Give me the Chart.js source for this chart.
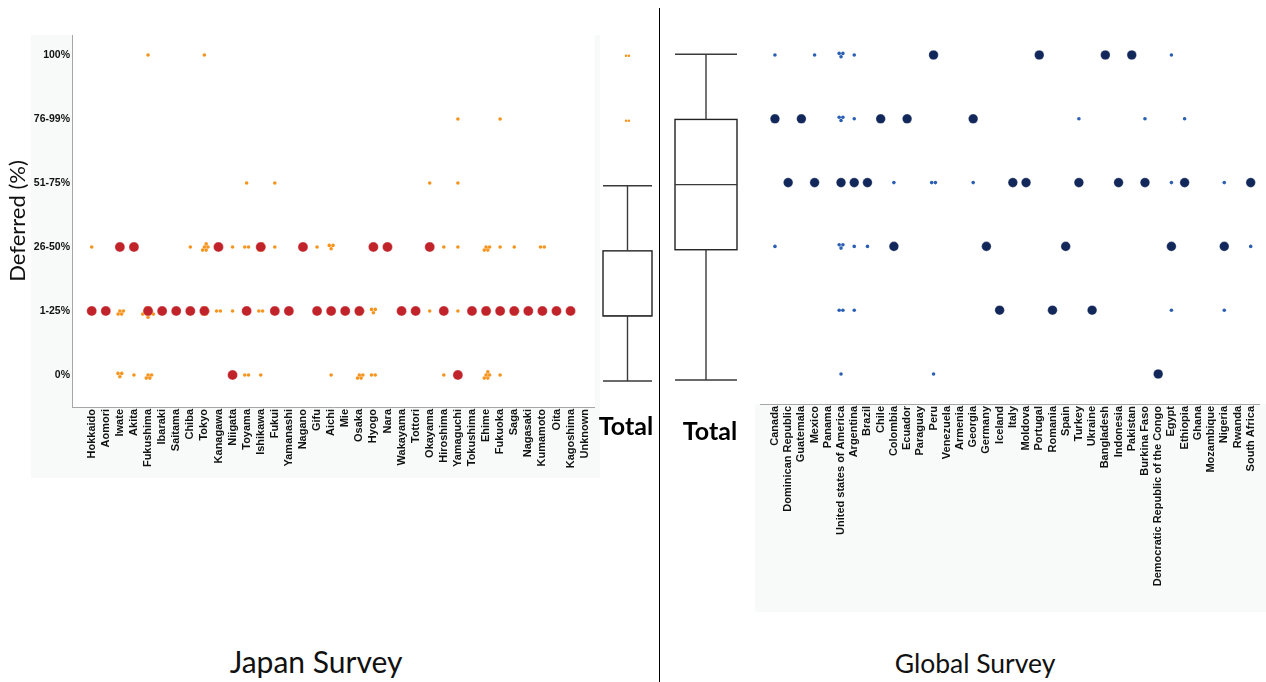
<!DOCTYPE html>
<html><head><meta charset="utf-8">
<script src="https://cdn.jsdelivr.net/npm/chart.js@4.4.0/dist/chart.umd.min.js"></script>
<style>
html,body{margin:0;padding:0;background:#fff;width:1266px;height:682px;overflow:hidden;position:relative;}
canvas{position:absolute;}
.title{position:absolute;font-family:Lato,'Open Sans',sans-serif;color:#111;white-space:nowrap;transform:translateX(-50%);line-height:36px;}
#divider{position:absolute;left:659px;top:8px;width:0;height:674px;border-left:1.6px solid #000;}
</style></head><body>
<canvas id="jp" width="600" height="490" style="left:0;top:0"></canvas>
<canvas id="jpBox" width="59" height="450" style="left:598px;top:0"></canvas>
<canvas id="glBox" width="66" height="460" style="left:673px;top:0"></canvas>
<canvas id="gl" width="511" height="612" style="left:755px;top:0"></canvas>
<div id="divider"></div>
<div class="title" style="left:316px;top:643px;font-size:30px">Japan Survey</div>
<div class="title" style="left:975px;top:645px;font-size:26.5px">Global Survey</div>
<script>
// ---------- DATA ----------
const levelLabels = ['0%','1-25%','26-50%','51-75%','76-99%','100%'];

const japanCategories = ['Hokkaido','Aomori','Iwate','Akita','Fukushima','Ibaraki','Saitama','Chiba','Tokyo','Kanagawa','Niigata','Toyama','Ishikawa','Fukui','Yamanashi','Nagano','Gifu','Aichi','Mie','Osaka','Hyogo','Nara','Wakayama','Tottori','Okayama','Hiroshima','Yamaguchi','Tokushima','Ehime','Fukuoka','Saga','Nagasaki','Kumamoto','Oita','Kagoshima','Unknown'];
// median level per prefecture (index into levelLabels)
const japanMedian = [1,1,2,2,1,1,1,1,1,2,0,1,2,1,1,2,1,1,1,1,2,2,1,1,2,1,0,1,1,1,1,1,1,1,1,null];
// number of individual responses per prefecture at each level
const japanCount0 = [0,0,3,1,4,0,0,0,0,0,1,2,1,0,0,0,0,1,0,4,2,0,0,0,0,1,1,0,5,1,0,0,0,0,0,0];
const japanCount1 = [1,1,4,0,10,1,1,1,6,2,1,1,2,1,1,0,1,1,1,4,3,0,1,1,1,1,1,1,5,1,4,1,1,1,1,0];
const japanCount2 = [1,0,1,1,0,0,0,1,5,1,1,2,5,1,0,1,1,3,0,0,1,1,0,0,1,1,1,0,4,1,1,0,2,0,0,0];
const japanCount3 = [0,0,0,0,0,0,0,0,0,0,0,1,0,1,0,0,0,0,0,0,0,0,0,0,1,0,1,0,0,0,0,0,0,0,0,0];
const japanCount4 = [0,0,0,0,0,0,0,0,0,0,0,0,0,0,0,0,0,0,0,0,0,0,0,0,0,0,1,0,0,1,0,0,0,0,0,0];
const japanCount5 = [0,0,0,0,1,0,0,0,1,0,0,0,0,0,0,0,0,0,0,0,0,0,0,0,0,0,0,0,0,0,0,0,0,0,0,0];

const globalCategories = ['Canada','Dominican Republic','Guatemala','Mexico','Panama','United states of America','Argentina','Brazil','Chile','Colombia','Ecuador','Paraguay','Peru','Venezuela','Armenia','Georgia','Germany','Iceland','Italy','Moldova','Portugal','Romania','Spain','Turkey','Ukraine','Bangladesh','Indonesia','Pakistan','Burkina Faso','Democratic Republic of the Congo','Egypt','Ethiopia','Ghana','Mozambique','Nigeria','Rwanda','South Africa'];
const globalMedian = [4,3,4,3,null,3,3,3,4,2,4,null,5,null,null,4,2,1,3,3,5,1,2,3,1,5,3,5,3,0,2,3,null,null,2,null,3];
const globalCount0 = [0,0,0,0,0,1,0,0,0,0,0,0,1,0,0,0,0,0,0,0,0,0,0,0,0,0,0,0,0,0,0,0,0,0,0,0,0];
const globalCount1 = [0,0,0,0,0,2,1,0,0,0,0,0,0,0,0,0,0,0,0,0,0,0,0,0,0,0,0,0,0,0,1,0,0,0,1,0,0];
const globalCount2 = [1,0,0,0,0,3,1,1,0,0,0,0,0,0,0,0,0,0,0,0,0,0,0,0,0,0,0,0,0,0,0,0,0,0,0,0,1];
const globalCount3 = [0,0,0,0,0,0,0,0,0,1,0,0,2,0,0,1,0,0,0,0,0,0,0,0,0,0,0,0,0,0,1,0,0,0,1,0,0];
const globalCount4 = [1,0,0,0,0,3,1,0,0,0,0,0,0,0,0,0,0,0,0,0,0,0,0,1,0,0,0,0,1,0,0,1,0,0,0,0,0];
const globalCount5 = [1,0,0,1,0,3,1,0,0,0,0,0,0,0,0,0,0,0,0,0,0,0,0,0,0,0,0,0,0,0,1,0,0,0,0,0,0];

// box plot summaries: [min, q1, median, q3, max]
const japanTotalStats = [0,1,1,2,3];
const japanTotalOutliers = [4,5];
const globalTotalStats = [0,2,3,4,5];
const totalLabel = ['Total'];

// ---------- helpers (layout only) ----------
const COLORS = {orange:'#f7941d', red:'#c1232b', navy:'#13285a', blue:'#2b5fb4', axis:'#a6a6a6', panel:'#f8faf9'};
function clusterOffsets(n){
  if(n<=0) return [];
  if(n===1) return [[0,0]];
  if(n===2) return [[-1.9,0],[1.9,0]];
  if(n===3) return [[-1.9,1.6],[1.9,1.6],[0,-1.7]];
  const s=3.6, pts=[];
  for(let j=-3;j<=3;j++) for(let i=-3;i<=3;i++){
    const x=s*(i+j/2), y=s*j*Math.sqrt(3)/2;
    pts.push([x,y,Math.round(Math.hypot(x,y)*10),Math.atan2(y,x)]);
  }
  pts.sort((a,b)=>a[2]-b[2]||a[3]-b[3]);
  return pts.slice(0,n).map(p=>[p[0],p[1]]);
}
function swarm(levels, pxX, pxY){
  const out=[];
  levels.forEach((arr,level)=>arr.forEach((n,i)=>{
    clusterOffsets(n).forEach(([dx,dy])=>out.push({x:i+dx/pxX, y:level+dy/pxY}));
  }));
  return out;
}
function medianPoints(arr){
  const out=[]; arr.forEach((v,i)=>{ if(v!==null) out.push({x:i,y:v}); }); return out;
}

const panelBg = {
  id:'panelBg',
  beforeDraw(chart, args, opts){
    const {ctx, chartArea:a} = chart;
    ctx.save();
    ctx.fillStyle = opts.gray;
    const r = opts.rect; ctx.fillRect(r[0],r[1],r[2],r[3]);
    ctx.fillStyle = '#fff';
    ctx.fillRect(a.left,a.top,a.right-a.left,a.bottom-a.top);
    ctx.restore();
  }
};
const boxPlot = {
  id:'boxPlot',
  afterDatasetsDraw(chart, args, opts){
    const bar = chart.getDatasetMeta(0).data[0];
    if(!bar) return;
    const y = chart.scales.y, ctx = chart.ctx;
    const [mn,q1,md,q3,mx] = opts.stats;
    const cx = bar.x, hw = opts.width/2;
    const P = v=>y.getPixelForValue(v);
    ctx.save();
    ctx.strokeStyle = '#222'; ctx.lineWidth = 1.4;
    ctx.strokeRect(cx-hw, P(q3), 2*hw, P(q1)-P(q3));
    ctx.strokeStyle = '#3a3a3a';
    ctx.beginPath();
    ctx.moveTo(cx,P(q3)); ctx.lineTo(cx,P(mx));
    ctx.moveTo(cx,P(q1)); ctx.lineTo(cx,P(mn));
    ctx.moveTo(cx-hw,P(mx)); ctx.lineTo(cx+hw,P(mx));
    ctx.moveTo(cx-hw,P(mn)); ctx.lineTo(cx+hw,P(mn));
    ctx.moveTo(cx-hw,P(md)); ctx.lineTo(cx+hw,P(md));
    ctx.stroke();
    (opts.outliers||[]).forEach(v=>{
      ctx.fillStyle = COLORS.orange;
      [-1.4,1.4].forEach(d=>{ ctx.beginPath(); ctx.arc(cx+d,P(v),1.3,0,Math.PI*2); ctx.fill(); });
    });
    ctx.restore();
  }
};

Chart.defaults.animation = false;
Chart.defaults.font.family = "'Liberation Sans', Arial, sans-serif";
Chart.defaults.color = '#111';

const tickFont = {family:"'Liberation Sans', Arial, sans-serif", weight:'bold', size:11};

// ---------- Japan scatter ----------
new Chart(document.getElementById('jp'), {
  type:'scatter',
  data:{datasets:[
    {label:'median', data:medianPoints(japanMedian), backgroundColor:COLORS.red, borderColor:'rgba(255,255,255,0.6)', borderWidth:0.5, pointRadius:5, pointHoverRadius:5},
    {label:'responses', data:swarm([japanCount0,japanCount1,japanCount2,japanCount3,japanCount4,japanCount5],14.23,64), backgroundColor:COLORS.orange, borderWidth:0, pointRadius:1.8, pointHoverRadius:1.8}
  ]},
  options:{
    responsive:false,
    layout:{padding:{top:35,left:0,right:0,bottom:0}},
    plugins:{legend:{display:false}, tooltip:{enabled:false}, panelBg:{gray:COLORS.panel, rect:[31,35,569,443]}},
    scales:{
      x:{type:'linear', min:-1.4, max:35.7,
        afterBuildTicks:s=>{ s.ticks = japanCategories.map((_,i)=>({value:i})); },
        afterFit:s=>{ s.height = 83; },
        grid:{display:false, drawTicks:false},
        border:{display:true, color:COLORS.axis, width:1},
        ticks:{autoSkip:false, maxRotation:90, minRotation:90, padding:2, font:tickFont, callback:(v)=>japanCategories[v]}
      },
      y:{type:'linear', min:-0.5, max:5.3125,
        afterBuildTicks:s=>{ s.ticks = levelLabels.map((_,i)=>({value:i})); },
        afterFit:s=>{ s.width = 72; },
        grid:{display:false, drawTicks:false},
        border:{display:true, color:COLORS.axis, width:1},
        title:{display:true, text:'Deferred (%)', font:{family:'Lato', size:22}, color:'#111', padding:{top:5,bottom:0}},
        ticks:{padding:2, font:{family:"'Liberation Sans Narrow','Liberation Sans', Arial", weight:'bold', size:10.5}, callback:(v)=>levelLabels[v]}
      }
    }
  },
  plugins:[panelBg]
});

// ---------- Japan total box ----------
new Chart(document.getElementById('jpBox'), {
  type:'bar',
  data:{labels:totalLabel, datasets:[{data:[[japanTotalStats[1],japanTotalStats[3]]], backgroundColor:'#fff', borderWidth:0, barThickness:49}]},
  options:{
    responsive:false,
    layout:{padding:{top:35,left:0,right:0,bottom:0}},
    plugins:{legend:{display:false}, tooltip:{enabled:false}, boxPlot:{stats:japanTotalStats, outliers:japanTotalOutliers, width:49}},
    scales:{
      x:{grid:{display:false, drawTicks:false}, border:{display:false},
        afterFit:s=>{ s.height = 43; },
        ticks:{padding:5, labelOffset:-1.5, color:'#000', font:{family:'Lato', weight:'bold', size:25}}},
      y:{display:false, min:-0.4, max:5.318}
    }
  },
  plugins:[boxPlot]
});

// ---------- Global total box ----------
new Chart(document.getElementById('glBox'), {
  type:'bar',
  data:{labels:totalLabel, datasets:[{data:[[globalTotalStats[1],globalTotalStats[3]]], backgroundColor:'#fff', borderWidth:0, barThickness:62}]},
  options:{
    responsive:false,
    layout:{padding:{top:35,left:0,right:0,bottom:0}},
    plugins:{legend:{display:false}, tooltip:{enabled:false}, boxPlot:{stats:globalTotalStats, width:62}},
    scales:{
      x:{grid:{display:false, drawTicks:false}, border:{display:false},
        afterFit:s=>{ s.height = 56; },
        ticks:{padding:13, labelOffset:4, color:'#000', font:{family:'Lato', weight:'bold', size:25}}},
      y:{display:false, min:-0.368, max:5.296}
    }
  },
  plugins:[boxPlot]
});

// ---------- Global scatter ----------
new Chart(document.getElementById('gl'), {
  type:'scatter',
  data:{datasets:[
    {label:'median', data:medianPoints(globalMedian), backgroundColor:COLORS.navy, borderColor:'rgba(255,255,255,0.6)', borderWidth:0.5, pointRadius:4.8, pointHoverRadius:4.8},
    {label:'responses', data:swarm([globalCount0,globalCount1,globalCount2,globalCount3,globalCount4,globalCount5],13.52,63.8), backgroundColor:COLORS.blue, borderWidth:0, pointRadius:1.8, pointHoverRadius:1.8}
  ]},
  options:{
    responsive:false,
    layout:{padding:{top:35,left:0,right:0,bottom:0}},
    plugins:{legend:{display:false}, tooltip:{enabled:false}, panelBg:{gray:COLORS.panel, rect:[0,404,511,208]}},
    scales:{
      x:{type:'linear', min:-1.109, max:36.69,
        afterBuildTicks:s=>{ s.ticks = globalCategories.map((_,i)=>({value:i})); },
        afterFit:s=>{ s.height = 208; },
        grid:{display:false, drawTicks:false},
        border:{display:true, color:COLORS.axis, width:1},
        ticks:{autoSkip:false, maxRotation:90, minRotation:90, padding:2, font:tickFont, callback:(v)=>globalCategories[v]}
      },
      y:{type:'linear', display:false, min:-0.470, max:5.3135}
    }
  },
  plugins:[panelBg]
});
</script>
</body></html>
